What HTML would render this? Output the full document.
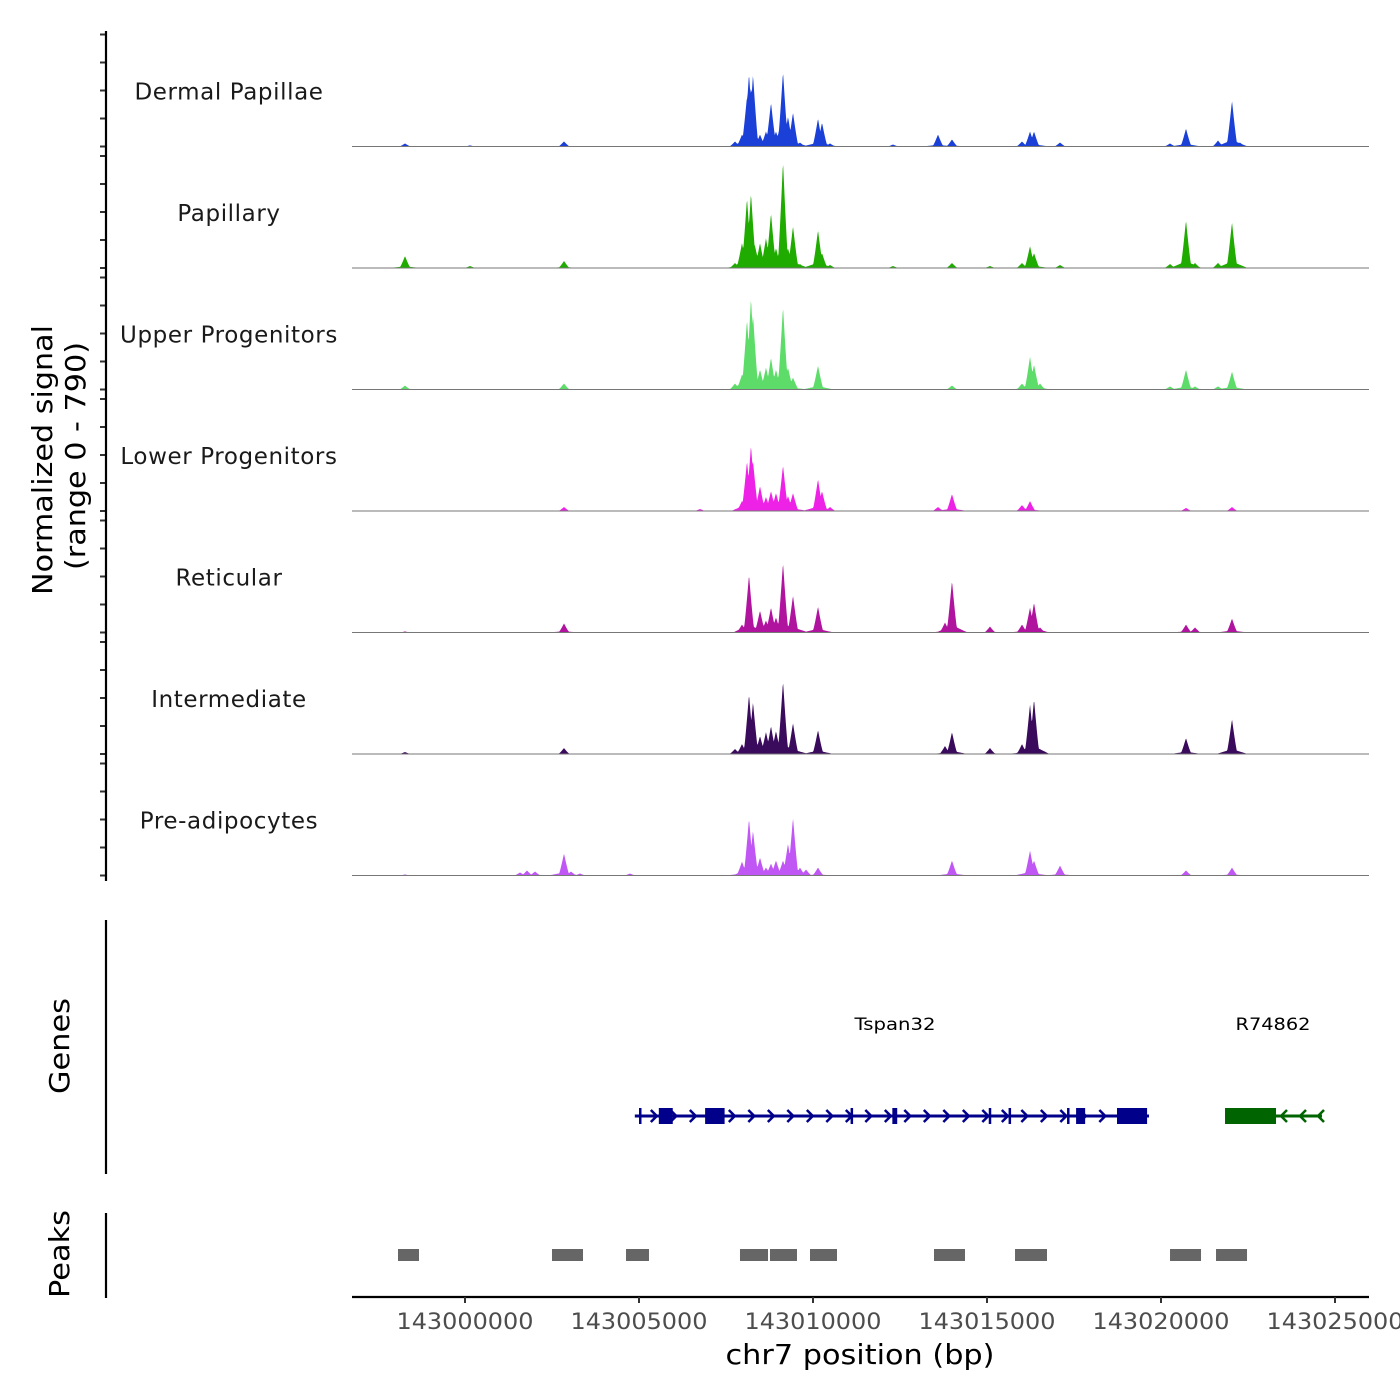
<!DOCTYPE html>
<html><head><meta charset="utf-8">
<style>
html,body{margin:0;padding:0;background:#fff;}
svg{display:block;font-family:"DejaVu Sans","Liberation Sans",sans-serif;}
</style></head>
<body>
<svg id="chart" width="1400" height="1400" viewBox="0 0 1400 1400" xmlns="http://www.w3.org/2000/svg">
<g id="tracks"></g>
<g id="yaxis">
<line x1="106" y1="31" x2="106" y2="881" stroke="#000" stroke-width="2.2"/>
<text transform="translate(52,460) rotate(-90)" text-anchor="middle" font-size="28" textLength="270" lengthAdjust="spacingAndGlyphs">Normalized signal</text>
<text transform="translate(85,456) rotate(-90)" text-anchor="middle" font-size="28" textLength="228" lengthAdjust="spacingAndGlyphs">(range 0 - 790)</text>
</g>
<g id="genes">
<line x1="106" y1="920" x2="106" y2="1174" stroke="#000" stroke-width="2.2"/>
<text transform="translate(69,1046) rotate(-90)" text-anchor="middle" font-size="28" textLength="96" lengthAdjust="spacingAndGlyphs">Genes</text>
</g>
<g id="peaks">
<line x1="106" y1="1213" x2="106" y2="1298" stroke="#000" stroke-width="2.2"/>
<text transform="translate(69,1254) rotate(-90)" text-anchor="middle" font-size="28" textLength="88" lengthAdjust="spacingAndGlyphs">Peaks</text>
</g>
<g id="xaxis">
<line x1="352" y1="1297" x2="1369" y2="1297" stroke="#000" stroke-width="2.2"/>
<text x="860" y="1364" text-anchor="middle" font-size="28" textLength="269" lengthAdjust="spacingAndGlyphs">chr7 position (bp)</text>
</g>
</svg>
<script>
// ---- data ----
const trackNames = ["Dermal Papillae","Papillary","Upper Progenitors","Lower Progenitors","Reticular","Intermediate","Pre-adipocytes"];
const trackColors = ["#1a40d8","#1fab00","#5ddc6a","#ee22e6","#b0149f","#3a0a5c","#c057f5"];
const xTicks = [143000000,143005000,143010000,143015000,143020000,143025000];
const yMax = 790;
const dpPos = [142998276,143000144,143002845,143007759,143007960,143008103,143008161,143008218,143008276,143008477,143008649,143008793,143008937,143009052,143009138,143009282,143009425,143009626,143010144,143010259,143010489,143012299,143013592,143013994,143016006,143016236,143016351,143017098,143020259,143020718,143021638,143022040,143022270];
const dpVal = [20,7,33,33,78,325,475,390,468,78,98,286,98,130,488,195,221,26,182,156,20,13,78,46,33,98,98,26,20,117,39,299,26];
const papPos = [142998276,143000144,143002845,143007759,143007960,143008103,143008218,143008334,143008477,143008649,143008793,143008937,143009052,143009138,143009282,143009425,143009626,143010144,143010259,143010489,143012299,143013994,143015086,143016006,143016236,143016351,143017098,143020259,143020718,143020977,143021638,143022040];
const papVal = [78,13,46,33,163,455,488,143,163,195,358,130,130,696,130,273,26,247,98,20,13,33,13,33,143,98,20,26,312,33,33,299];
const upPos = [142998276,143002845,143007759,143007960,143008103,143008218,143008276,143008477,143008649,143008793,143008937,143009052,143009138,143009282,143009425,143010144,143013994,143016006,143016236,143016351,143016523,143020259,143020718,143020977,143021638,143022040];
const upVal = [26,39,39,98,455,598,488,130,143,208,130,130,540,143,78,156,26,39,215,163,39,20,130,20,20,117];
const lowPos = [143002845,143006753,143007960,143008103,143008218,143008276,143008477,143008649,143008793,143008937,143009138,143009282,143009425,143010144,143010259,143010489,143013592,143013994,143016006,143016236,143020718,143022040];
const lowVal = [26,13,65,325,429,325,163,91,130,117,299,98,117,208,130,26,26,111,39,65,20,26];
const retPos = [142998276,143002845,143007960,143008161,143008477,143008649,143008793,143008937,143009138,143009425,143010144,143013793,143013994,143015086,143016006,143016236,143016351,143016523,143020718,143020977,143022040];
const retVal = [7,59,52,377,143,78,163,98,455,241,169,65,338,39,52,163,195,33,52,33,91];
const intPos = [142998276,143002845,143007759,143007960,143008161,143008276,143008477,143008649,143008793,143008937,143009138,143009425,143010144,143013793,143013994,143015086,143016006,143016236,143016351,143016523,143020718,143022040];
const intVal = [13,39,33,65,390,338,117,143,182,150,475,202,156,52,143,39,65,325,358,33,104,228];
const prePos = [142998276,143001580,143001782,143002012,143002845,143003046,143003305,143004741,143007960,143008161,143008276,143008477,143008649,143008793,143008937,143009138,143009282,143009425,143009626,143009799,143010144,143013994,143016236,143016351,143017098,143020718,143022040];
const preVal = [7,20,33,26,143,26,13,13,91,371,293,117,52,78,98,98,208,377,52,39,52,98,163,98,65,33,52];
const trackPos = [dpPos,papPos,upPos,lowPos,retPos,intPos,prePos];
const trackVal = [dpVal,papVal,upVal,lowVal,retVal,intVal,preVal];
const peakStart = [142998075,143002500,143004627,143007902,143008764,143009914,143013477,143015805,143020259,143021581];
const peakEnd   = [142998678,143003391,143005287,143008707,143009540,143010690,143014368,143016724,143021150,143022472];
const tspanExonStart = [143005000,143005570,143006900,143011080,143012280,143015050,143015620,143017300,143017560,143018736];
const tspanExonEnd   = [143005060,143005970,143007460,143011140,143012420,143015100,143015670,143017360,143017820,143019600];
const tspanStart = 143004880, tspanEnd = 143019655;
const rGeneStart = 143021840, rGeneEnd = 143024627;
const rExonStart = [143021840], rExonEnd = [143023305];

// ---- scales ----
const X0 = 352, X1 = 1369, BP0 = 142996753, BP1 = 143025977;
function xs(bp){ return X0 + (bp-BP0)/(BP1-BP0)*(X1-X0); }
const trackH = 121.5, firstBase = 146.5;
function ys(v, base){ return base - v/yMax*trackH; }
const NS = "http://www.w3.org/2000/svg";
function mk(tag, attrs, parent){ const e=document.createElementNS(NS,tag); for(const k in attrs) e.setAttribute(k,attrs[k]); parent.appendChild(e); return e; }

const tracks = document.getElementById('tracks');
const hw = 160;
for(let t=0;t<trackNames.length;t++){
  const base = firstBase + t*trackH;
  const g = mk('g',{},tracks);
  
  
  const pos = trackPos[t], val = trackVal[t];
  let d = 'M'+X0+','+base;
  for(let bp=BP0; bp<=BP1; bp+=15){
    let v=0, s=0;
    for(let i=0;i<pos.length;i++){
      const dd=Math.abs(bp-pos[i]);
      const k=1-dd/hw; if(k>0) v=Math.max(v,val[i]*Math.pow(k,1.2));
      const k2=1-dd/450; if(k2>0) s=Math.max(s,val[i]*0.14*k2);
    }
    v=Math.max(v,s);
    d += 'L'+xs(bp).toFixed(2)+','+ys(v,base).toFixed(2);
  }
  d += 'L'+X1+','+base+'Z';
  const area = mk('path',{d:d,fill:trackColors[t],stroke:'none'},g);
  
  
  const bl = mk('line',{x1:X0,x2:X1,y1:base,y2:base,stroke:'#777','stroke-width':1},g);
  
  
  const lab = mk('text',{x:229,y:base-47,'text-anchor':'middle','font-size':23,'letter-spacing':0.6,fill:'#1a1a1a'},g);
  lab.textContent = trackNames[t];
  
  
  for(let k=0;k<5;k++){
    const ty = base - k*28;
    const tk = mk('line',{x1:100,x2:106,y1:ty,y2:ty,stroke:'#333','stroke-width':2},g);
    
    
  }
}

// genes
const genes = document.getElementById('genes');
const gy = 1116, blue = '#00008b', green = '#006400';
function chevron(x, dir, col, parent){
  const p = mk('path',{d: dir>0 ? `M${x-4},${gy-6}L${x+2},${gy}L${x-4},${gy+6}` : `M${x+4},${gy-6}L${x-2},${gy}L${x+4},${gy+6}`, fill:'none', stroke:col, 'stroke-width':2.5}, parent);
  
  
}
const tg = mk('g',{},genes);


const tl = mk('line',{x1:xs(tspanStart),x2:xs(tspanEnd),y1:gy,y2:gy,stroke:blue,'stroke-width':3},tg);


for(let x=xs(tspanStart)+20; x<xs(tspanEnd)-30; x+=19.5) chevron(x,1,blue,tg);
for(let i=0;i<tspanExonStart.length;i++){
  const x=xs(tspanExonStart[i]), w=Math.max(2.5,xs(tspanExonEnd[i])-x);
  const r = mk('rect',{x:x,y:gy-8,width:w,height:16,fill:blue},tg);
  
  
}
const tlab = mk('text',{x:895,y:1030,'text-anchor':'middle','font-size':17,textLength:81,lengthAdjust:'spacingAndGlyphs'},tg);
tlab.textContent='Tspan32';


const rg = mk('g',{},genes);


const rl = mk('line',{x1:xs(rGeneStart),x2:xs(rGeneEnd),y1:gy,y2:gy,stroke:green,'stroke-width':3},rg);


for(const x of [1283,1302,1320]) chevron(x,-1,green,rg);
for(let i=0;i<rExonStart.length;i++){
  const x=xs(rExonStart[i]);
  const r = mk('rect',{x:x,y:gy-8,width:xs(rExonEnd[i])-x,height:16,fill:green},rg);
  
  
}
const rlab = mk('text',{x:1273,y:1030,'text-anchor':'middle','font-size':17,textLength:75,lengthAdjust:'spacingAndGlyphs'},rg);
rlab.textContent='R74862';



// peaks
const peaks = document.getElementById('peaks');
for(let i=0;i<peakStart.length;i++){
  const x=xs(peakStart[i]);
  const r = mk('rect',{x:x,y:1249,width:xs(peakEnd[i])-x,height:12,fill:'#666'},peaks);
  
  
}

// x axis
const xa = document.getElementById('xaxis');
for(const t of xTicks){
  const x=xs(t);
  const tk = mk('line',{x1:x,x2:x,y1:1297,y2:1303,stroke:'#333','stroke-width':2},xa);
  
  
  const lb = mk('text',{x:x,y:1329,'text-anchor':'middle','font-size':22,fill:'#4d4d4d',textLength:137,lengthAdjust:'spacingAndGlyphs'},xa);
  lb.textContent = t;
  
  
}
</script>
</body></html>
